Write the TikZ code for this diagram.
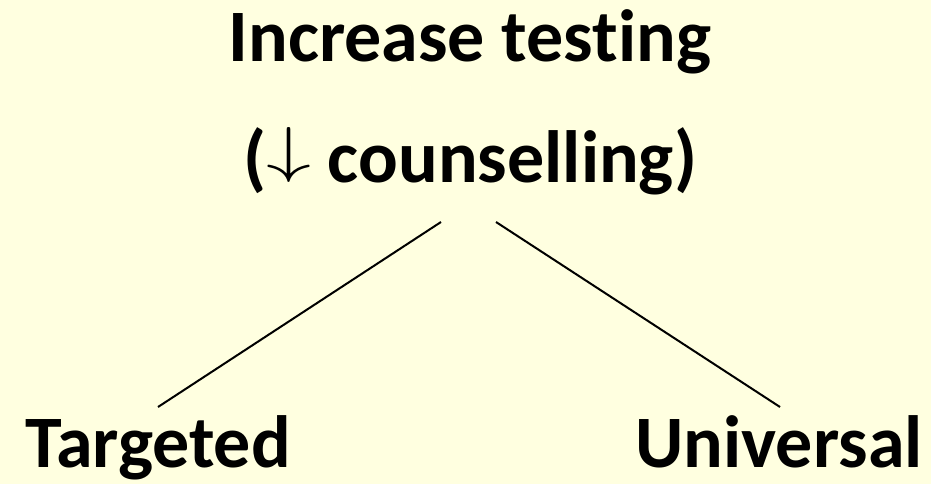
\documentclass[tikz,border=0pt]{standalone}
\usepackage{fontspec}
\setmainfont{Carlito}[Ligatures={NoCommon,NoContextual}]
\usepackage{xcolor}
\usetikzlibrary{calc,positioning}
\definecolor{paleyellow}{RGB}{255,255,224}
\newcommand{\bigdown}{\raisebox{12pt}{\scalebox{9}[6.2]{\fontsize{10}{12}\selectfont$\downarrow$}}}

\begin{document}
\begin{tikzpicture}[x=1pt,y=-1pt,
	lbl/.style = {inner sep=0pt, anchor=base, font=\fontsize{74}{80}\selectfont\bfseries},
	branch/.style = {line width=2pt}]
	
	\def \midx {470}
	
	\fill[paleyellow] (0,0) rectangle (931,484);
	\useasboundingbox (0,0) rectangle (931,484);
	
	\node[lbl] (increase) at (\midx,62) {Increase testing};
	\node[lbl] (counsel) at (\midx,182) {(\bigdown{} counselling)};
	\node[lbl] (targeted) at (158,467) {Targeted};
	\node[lbl] (universal) at (779,467) {Universal};
	
	% branch ends, relative to the labels
	\coordinate (splitl) at ($(counsel.base)+(-29,40)$);
	\coordinate (splitr) at ($(counsel.base)+(26,40)$);
	\coordinate (endl) at ($(targeted.base)+(0,-60)$);
	\coordinate (endr) at ($(universal.base)+(1,-60)$);
	
	\draw[branch] (splitl) -- (endl);
	\draw[branch] (splitr) -- (endr);
\end{tikzpicture}
\end{document}
